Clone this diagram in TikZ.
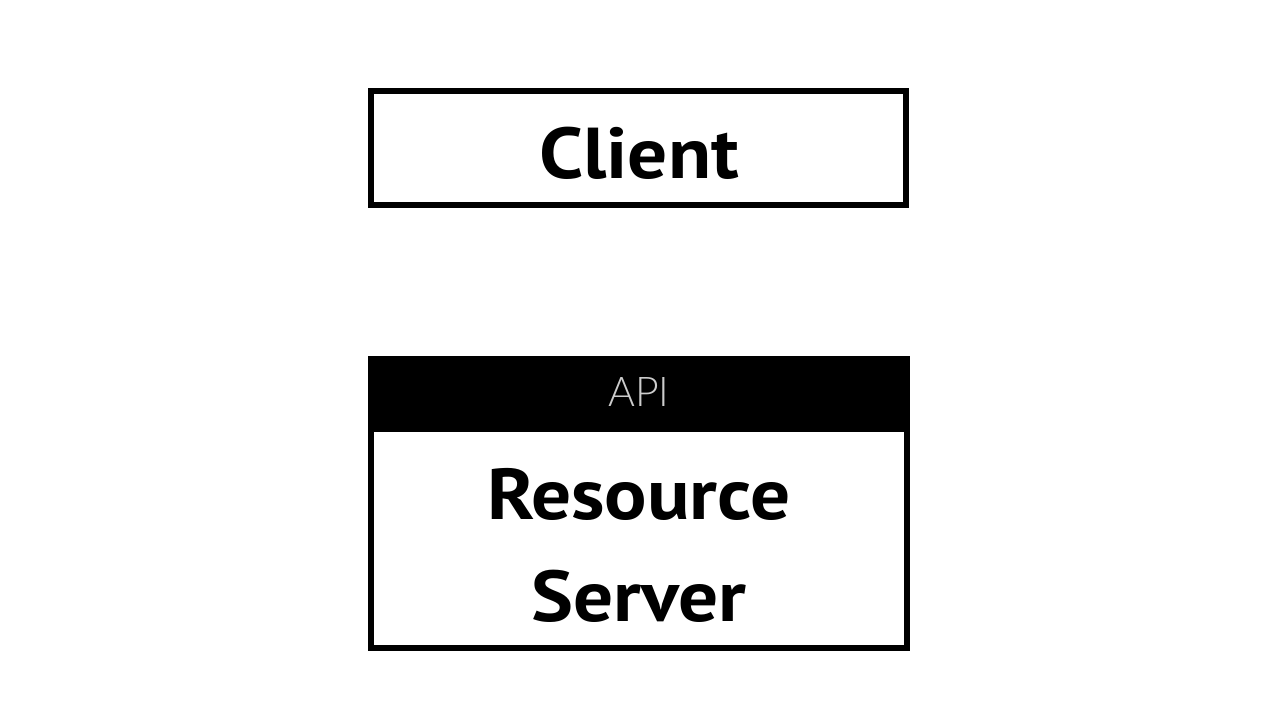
\documentclass[tikz,border=0pt]{standalone}
\usepackage{fontspec}
\setmainfont{PT Sans}[FakeStretch=1.1]
\newfontfamily\apifont{Lato}[UprightFont=* Light]
\begin{document}
\begin{tikzpicture}[x=1pt,y=-1pt,
  boxline/.style={draw=black,line width=6pt,inner sep=0pt,outer sep=0pt},
  bigtext/.style={font=\fontsize{72}{102}\selectfont\bfseries,align=center,text=black},
  apitext/.style={font=\apifont\fontsize{41}{50}\selectfont,text=white!80!black}]
\useasboundingbox (0,0) rectangle (1280,717);
\fill[white] (0,0) rectangle (1280,717);
% Client
\node[boxline,minimum width=535pt,minimum height=114pt,anchor=north west] (client) at (371,91) {};
\node[bigtext] (clientlabel) at (639,153) {Client};
% Resource server
\node[boxline,minimum width=536pt,minimum height=289pt,anchor=north west] (server) at (371,359) {};
\fill[black] (368,356) rectangle (910,432);
\node[apitext] (api) at (639,392) {API};
\node[bigtext] (serverlabel) at (639,545) {Resource\\Server};
\end{tikzpicture}
\end{document}
